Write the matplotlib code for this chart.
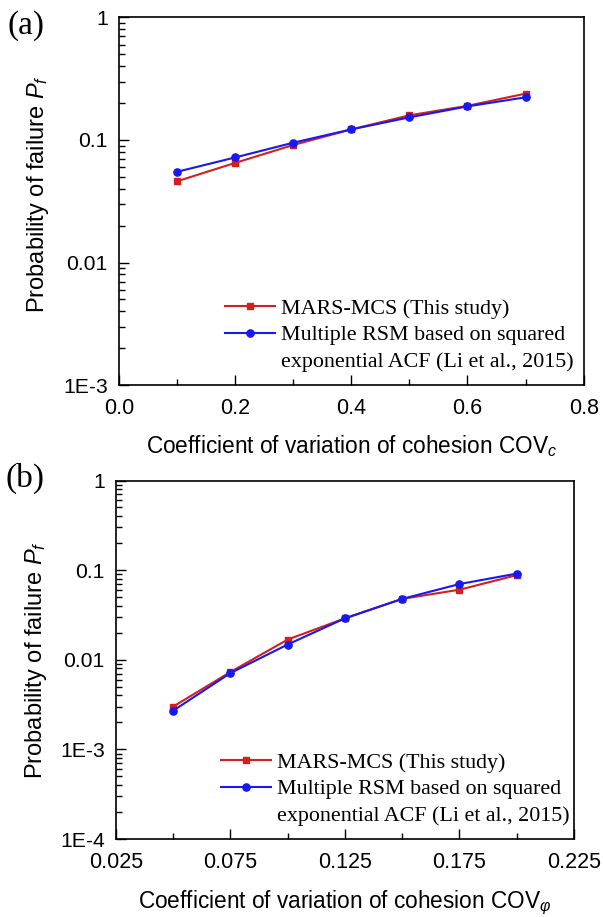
import math
import matplotlib
matplotlib.use('Agg')
import matplotlib.pyplot as plt
from matplotlib.lines import Line2D
from matplotlib.ticker import FixedLocator, FuncFormatter, LogLocator, NullFormatter

# panel (a): COV of cohesion
cov_c = [0.1, 0.2, 0.3, 0.4, 0.5, 0.6, 0.7]
pf_mars_a = [0.046, 0.065, 0.091, 0.122, 0.159, 0.190, 0.239]
pf_rsm_a = [0.055, 0.072, 0.095, 0.122, 0.153, 0.188, 0.223]

# panel (b): COV of friction angle
cov_phi = [0.05, 0.075, 0.1, 0.125, 0.15, 0.175, 0.2]
pf_mars_b = [0.0030, 0.0073, 0.0168, 0.0290, 0.0478, 0.0605, 0.0880]
pf_rsm_b = [0.0027, 0.0071, 0.0148, 0.0290, 0.0478, 0.0700, 0.0915]

RED = "#d41f1f"
BLUE = "#1818f2"
SANS = "Liberation Sans"
SERIF = "Liberation Serif"

plt.rcParams["mathtext.fontset"] = "custom"
plt.rcParams["mathtext.it"] = "Liberation Sans:italic"
plt.rcParams["mathtext.rm"] = "Liberation Sans"


def ylab(v, pos):
    if v >= 0.01:
        return f"{v:g}"
    return f"1E{int(round(math.log10(v)))}"


def draw_panel(ax, x, mars, rsm, xlim, xmajor, xminor, xfmt, ylim, xlabel, tag,
               ylab_y, xlab_y, tag_y):
    l1, = ax.plot(x, mars, "-s", color=RED, lw=1.5, ms=4.8)
    l2, = ax.plot(x, rsm, "-o", color=BLUE, lw=1.5, ms=5.2)
    blank = Line2D([], [], linestyle="none")
    ax.legend([l1, l2, blank],
              ["MARS-MCS (This study)", "Multiple RSM based on squared",
               "exponential ACF (Li et al., 2015)"],
              loc="lower left", bbox_to_anchor=(0.2, 0.0), frameon=False,
              prop={"family": SERIF, "size": 15.8}, handlelength=2.3,
              handletextpad=0.27, labelspacing=0.28, borderaxespad=0.2)

    ax.set_yscale("log")
    ax.set_xlim(*xlim)
    ax.set_ylim(*ylim)
    ax.xaxis.set_major_locator(FixedLocator(xmajor))
    ax.xaxis.set_minor_locator(FixedLocator(xminor))
    ax.xaxis.set_major_formatter(FuncFormatter(lambda v, p: xfmt.format(v)))
    ax.yaxis.set_major_locator(LogLocator(base=10))
    ax.yaxis.set_minor_locator(LogLocator(base=10, subs=range(2, 10)))
    ax.yaxis.set_major_formatter(FuncFormatter(ylab))
    ax.yaxis.set_minor_formatter(NullFormatter())
    ax.tick_params(which="both", direction="in", top=False, right=False, width=1.0)
    ax.tick_params(which="major", length=7)
    ax.tick_params(which="minor", length=4)
    ax.tick_params(axis="x", which="major", labelsize=15.5, pad=9)
    ax.tick_params(axis="y", which="major", labelsize=15.2, pad=8)
    for lbl in ax.get_xticklabels() + ax.get_yticklabels():
        lbl.set_fontfamily(SANS)
    for s in ax.spines.values():
        s.set_linewidth(1.2)

    ax.set_xlabel(xlabel, fontsize=16.3, family=SANS)
    ax.xaxis.set_label_coords(0.5, xlab_y)
    ax.set_ylabel(r"Probability of failure $P_f$", fontsize=17, family=SANS)
    ax.yaxis.set_label_coords(-0.145, ylab_y)
    ax.text(-0.24, tag_y, tag, transform=ax.transAxes, fontsize=24, family=SERIF,
            ha="left", va="top")


fig = plt.figure(figsize=(6.03, 9.17), dpi=100)
ax1 = fig.add_axes([0.197, 0.580, 0.771, 0.401])
ax2 = fig.add_axes([0.192, 0.085, 0.760, 0.391])

draw_panel(ax1, cov_c, pf_mars_a, pf_rsm_a, (0.0, 0.8), [0.0, 0.2, 0.4, 0.6, 0.8],
           [0.1, 0.3, 0.5, 0.7], "{:.1f}", (1e-3, 1),
           r"Coefficient of variation of cohesion COV$_c$", "(a)",
           0.52, -0.13, 1.02)
draw_panel(ax2, cov_phi, pf_mars_b, pf_rsm_b, (0.025, 0.225),
           [0.025, 0.075, 0.125, 0.175, 0.225], [0.05, 0.1, 0.15, 0.2], "{:.3f}",
           (1e-4, 1), r"Coefficient of variation of cohesion COV$_\varphi$", "(b)",
           0.5, -0.138, 1.05)

fig.savefig("out.png", dpi=100)
